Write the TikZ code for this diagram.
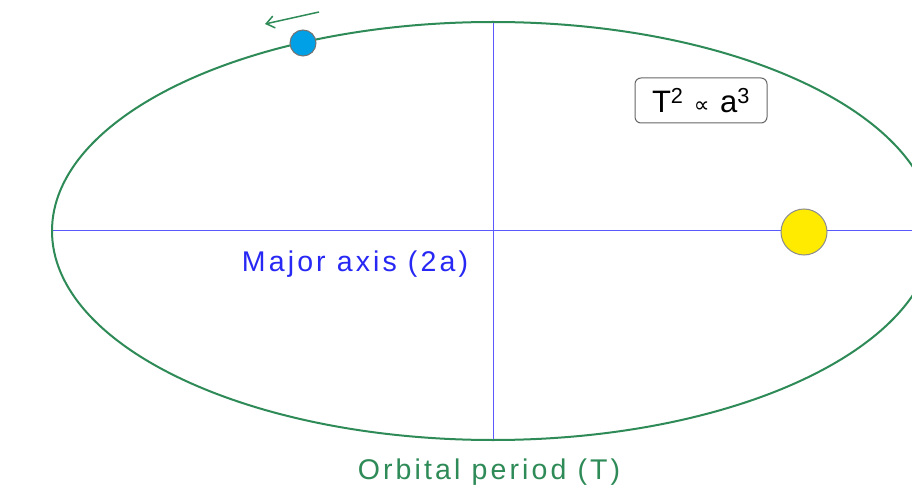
\documentclass[tikz,border=0pt]{standalone}
\usepackage{fontspec}
\setmainfont{Liberation Sans}
\newfontfamily\symfont{DejaVu Sans}
\usetikzlibrary{arrows.meta}
\definecolor{orbitgreen}{RGB}{46,139,87}
\definecolor{axisblue}{RGB}{90,90,255}
\definecolor{labelblue}{RGB}{40,40,245}
\definecolor{planetblue}{RGB}{0,160,230}
\definecolor{sunyellow}{RGB}{255,235,0}
\tikzset{
  orbit/.style={draw=orbitgreen,line width=2pt},
  axisline/.style={draw=axisblue,line width=1pt},
  lbl/.style={font=\fontsize{28.5}{32}\selectfont\addfontfeature{LetterSpace=11},inner sep=0pt},
  body/.style={circle,draw=black!55,line width=1pt,inner sep=0pt},
  eqbox/.style={draw=black!60,rounded corners=6pt,line width=1pt,fill=white,minimum width=132pt,minimum height=45pt,inner sep=0pt,font=\fontsize{31}{34}\selectfont\addfontfeature{LetterSpace=6}},
  motion/.style={draw=orbitgreen,line width=1.5pt,-{Straight Barb[length=8pt,width=12pt]}}
}
\begin{document}
\begin{tikzpicture}[x=1pt,y=-1pt]
\useasboundingbox (0,0) rectangle (912,494);
\clip (0,0) rectangle (912,494);
\fill[white] (0,0) rectangle (912,494);
\coordinate (L) at (52,231);
\coordinate (R) at (912,231);
\coordinate (T) at (493,22);
\coordinate (B) at (493,440);
\draw[axisline] (L) -- (R);
\draw[axisline] (T) -- (B);
\draw[orbit] (493,231) ellipse [x radius=441,y radius=209];
\node[body,fill=planetblue,minimum size=26pt] (planet) at (303,43) {};
\node[body,fill=sunyellow,minimum size=46pt,draw=black!45] (sun) at (804,232) {};
\coordinate (a1) at (319,12);
\coordinate (a2) at (265,24);
\draw[motion] (a1) -- (a2);
\node[eqbox] (eq) at (701,100.5) {T\textsuperscript{2} {\symfont\fontsize{22}{24}\selectfont ∝} a\textsuperscript{3}};
\node[lbl,text=labelblue] (major) at (355,264) {Major axis (2a)};
\node[lbl,text=orbitgreen] (period) at (489,472) {Orbital period (T)};
\end{tikzpicture}
\end{document}
